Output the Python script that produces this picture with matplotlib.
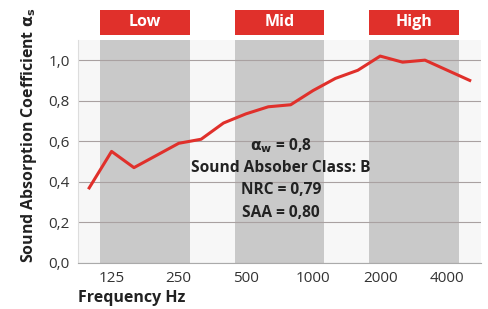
import matplotlib
matplotlib.use("Agg")
import matplotlib.pyplot as plt
from matplotlib.patches import Rectangle
import matplotlib.transforms as mtransforms

plt.rcParams['font.family'] = ['Open Sans', 'DejaVu Sans']

# third-octave bands 100 Hz .. 5000 Hz
freqs = [100, 125, 160, 200, 250, 315, 400, 500, 630, 800,
         1000, 1250, 1600, 2000, 2500, 3150, 4000, 5000]
alpha = [0.37, 0.55, 0.47, 0.53, 0.59, 0.61, 0.69, 0.735, 0.77, 0.78,
         0.85, 0.91, 0.95, 1.02, 0.99, 1.00, 0.95, 0.90]

tick_freqs = [125, 250, 500, 1000, 2000, 4000]
y_ticks = [0.0, 0.2, 0.4, 0.6, 0.8, 1.0]
y_tick_labels = ['0,0', '0,2', '0,4', '0,6', '0,8', '1,0']

# frequency ranges (first band, last band)
ranges = [('Low', 125, 250), ('Mid', 500, 1000), ('High', 2000, 4000)]

info_lines = [r'$\mathbf{\alpha_w}$ = 0,8', 'Sound Absober Class: B',
              'NRC = 0,79', 'SAA = 0,80']
info_y = [0.58, 0.47, 0.36, 0.245]

RED = '#e0302b'
x = list(range(len(freqs)))

fig = plt.figure(figsize=(4.89, 3.09), dpi=100)
ax = fig.add_axes([0.1595, 0.149, 0.824, 0.722])
ax.set_facecolor('#f7f7f7')

trans = mtransforms.blended_transform_factory(ax.transData, ax.transAxes)
for name, f0, f1 in ranges:
    i0 = freqs.index(f0) - 0.5
    i1 = freqs.index(f1) + 0.5
    ax.axvspan(i0, i1, color='#c9c9c9', zorder=0, lw=0)
    ax.add_patch(Rectangle((i0, 1.022), i1 - i0, 0.113, transform=trans,
                           color=RED, clip_on=False, lw=0))
    ax.text((i0 + i1) / 2, 1.078, name, transform=trans, ha='center', va='center',
            color='white', fontsize=11.5, fontweight='bold')

for yv in y_ticks:
    ax.axhline(yv, color='#a9a1a1', lw=0.8, zorder=1)

ax.plot(x, alpha, color=RED, lw=2.2, zorder=3)

for txt, yv in zip(info_lines, info_y):
    ax.text(8.57, yv, txt, ha='center', va='center', fontsize=11.2,
            fontweight='bold', color='#222222', zorder=4)

ax.set_xlim(-0.5, 17.5)
ax.set_ylim(0, 1.1)
ax.set_xticks([freqs.index(f) for f in tick_freqs])
ax.set_xticklabels([str(f) for f in tick_freqs])
ax.set_yticks(y_ticks)
ax.set_yticklabels(y_tick_labels)
ax.tick_params(length=0, labelsize=11, colors='#333333', pad=6)

for s in ['top', 'right']:
    ax.spines[s].set_visible(False)
ax.spines['left'].set_color('#dddddd')
ax.spines['bottom'].set_color('#aaaaaa')

ax.set_xlabel('Frequency Hz', loc='left', fontsize=11.5, fontweight='bold',
              color='#222222', labelpad=3)
ax.set_ylabel(r'Sound Absorption Coefficient $\mathbf{\alpha_s}$', loc='bottom',
              fontsize=11.4, fontweight='bold', color='#222222', labelpad=7)

fig.savefig('out.png', dpi=100)
